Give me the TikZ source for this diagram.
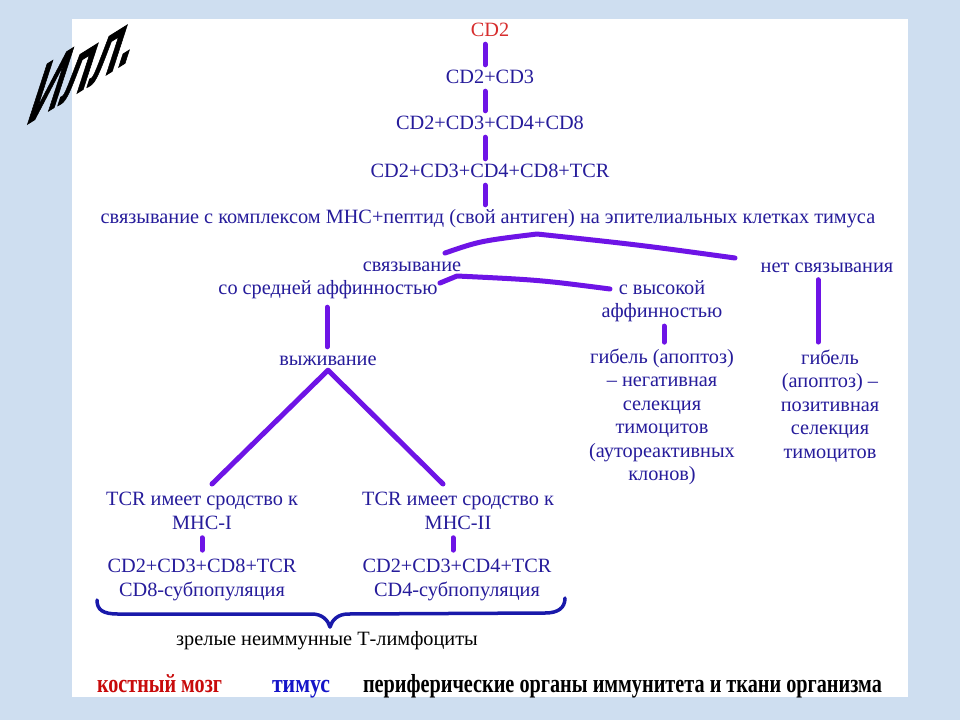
\documentclass[tikz,border=0pt]{standalone}
\usepackage{fontspec}
\setmainfont{Liberation Serif}
\newfontfamily\illfont[FakeBold=1.5]{Liberation Sans}
\usetikzlibrary{calc}
\definecolor{bgblue}{RGB}{206,222,240}
\definecolor{txt}{RGB}{38,28,155}
\definecolor{ln}{RGB}{110,20,230}
\definecolor{brc}{RGB}{25,25,170}
\definecolor{cdred}{RGB}{215,45,45}
\definecolor{lgred}{RGB}{200,10,10}
\definecolor{lgblue}{RGB}{20,20,200}
\begin{document}
\begin{tikzpicture}[x=1pt,y=-1pt,
  lbl/.style={text=txt, font=\fontsize{20.3}{23.5}\selectfont, inner xsep=1pt, inner ysep=1pt,
              text height=14pt, text depth=4pt},
  mlbl/.style={text=txt, font=\fontsize{20.3}{23.5}\selectfont, inner xsep=1pt, inner ysep=1pt, align=center},
  conn/.style={draw=ln, line width=5pt, line cap=round, line join=round},
  bracestyle/.style={draw=brc, line width=3.5pt, line cap=round, line join=round},
  legend/.style={font=\fontsize{26}{26}\selectfont\bfseries, anchor=base, inner sep=0pt},
]
\useasboundingbox (0,0) rectangle (960,720);
\fill[bgblue] (0,0) rectangle (960,720);
\fill[white] (72,19) rectangle (908,697);

% Title
\node[font=\illfont\bfseries\fontsize{54}{54}\selectfont, inner sep=0pt,
      cm={0.848,0.530,0.525,1.617,(0,0)}] (ill) at (86,64) {Илл.};

% main chain
\node[lbl, text=cdred] (cd2) at (490,31) {CD2};
\node[lbl] (cd23) at (490,78) {CD2+CD3};
\node[lbl] (cd2348) at (490,124) {CD2+CD3+CD4+CD8};
\node[lbl] (cdtcr) at (490,172) {CD2+CD3+CD4+CD8+TCR};
\node[lbl] (bind) at (488,218) {связывание с комплексом МНС+пептид (свой антиген) на эпителиальных клетках тимуса};

\node[lbl] (sv) at (412,266) {связывание};
\node[lbl] (sredn) at (328,289) {со средней аффинностью};
\node[mlbl] (high) at (662,301) {с высокой\\аффинностью};
\node[lbl] (net) at (827,267) {нет связывания};

\node[mlbl] (death1) at (662,417) {гибель (апоптоз)\\– негативная\\селекция\\тимоцитов\\(аутореактивных\\клонов)};
\node[mlbl] (death2) at (830,406) {гибель\\(апоптоз) –\\позитивная\\селекция\\тимоцитов};

\node[lbl] (surv) at (328,360) {выживание};

\node[mlbl] (tcr1) at (202,511) {TCR имеет сродство к\\МНС-I};
\node[mlbl] (tcr2) at (458,511) {TCR имеет сродство к\\МНС-II};
\node[mlbl] (sub1) at (202,580) {CD2+CD3+CD8+TCR\\CD8-субпопуляция};
\node[mlbl] (sub2) at (457,580) {CD2+CD3+CD4+TCR\\CD4-субпопуляция};

\node[lbl, text=black] (mature) at (327,640) {зрелые неиммунные Т-лимфоциты};

% legend
\node[legend, text=lgred] (lg1) at (159.5,692) {\resizebox{125pt}{\height}{костный мозг}};
\node[legend, text=lgblue] (lg2) at (301,692) {\resizebox{58pt}{\height}{тимус}};
\node[legend, text=black] (lg3) at (622.5,692) {\resizebox{519pt}{\height}{периферические органы иммунитета и ткани организма}};

% connectors: main spine
\coordinate (spine) at (485,0);
\draw[conn, shorten <=3pt, shorten >=3pt] (cd2.south -| spine) -- (cd23.north -| spine);
\draw[conn, shorten <=3pt, shorten >=3pt] (cd23.south -| spine) -- (cd2348.north -| spine);
\draw[conn, shorten <=3pt, shorten >=3pt] (cd2348.south -| spine) -- (cdtcr.north -| spine);
\draw[conn, shorten <=3pt, shorten >=3pt] (cdtcr.south -| spine) -- (bind.north -| spine);

% split under binding
\coordinate (aL) at (445,253);
\coordinate (aT) at (537,234);
\coordinate (aR) at (735,258);
\draw[conn] (aL) .. controls (480,241) .. (aT) .. controls (640,245) .. (aR);

\coordinate (sL) at (440,283);
\coordinate (sK) at (457,276);
\coordinate (sR) at (610,289);
\draw[conn] (sL) -- (sK) .. controls (540,280) .. (sR);

% verticals
\draw[conn, shorten <=8pt, shorten >=3pt] ([xshift=-1pt]sredn.south) -- ([xshift=-1pt]sredn.south |- surv.north);
\draw[conn, shorten <=3pt, shorten >=5.5pt] ([xshift=2pt]high.south) -- ([xshift=2pt]high.south |- death1.north);
\draw[conn, shorten <=2.5pt, shorten >=6.5pt] ([xshift=-9pt]net.south) -- ([xshift=-9pt]net.south |- death2.north);

% survival branches
\coordinate (tl) at (212,484);
\coordinate (tr) at (443,484);
\draw[conn] (tl) -- (surv.south) -- (tr);

\draw[conn, shorten <=7pt, shorten >=8pt] (tcr1.south) -- (tcr1.south |- sub1.north);
\draw[conn, shorten <=7pt, shorten >=8pt] ([xshift=-5pt]tcr2.south) -- ([xshift=-5pt]tcr2.south |- sub2.north);

% brace
\draw[bracestyle] (97,600) .. controls (97,610) and (103,614) .. (118,614) -- (312,614)
  .. controls (322,614) and (328,620) .. (330,627)
  .. controls (332,620) and (338,614) .. (348,614) -- (545,613)
  .. controls (558,613) and (565,608) .. (565,598);
\end{tikzpicture}
\end{document}
